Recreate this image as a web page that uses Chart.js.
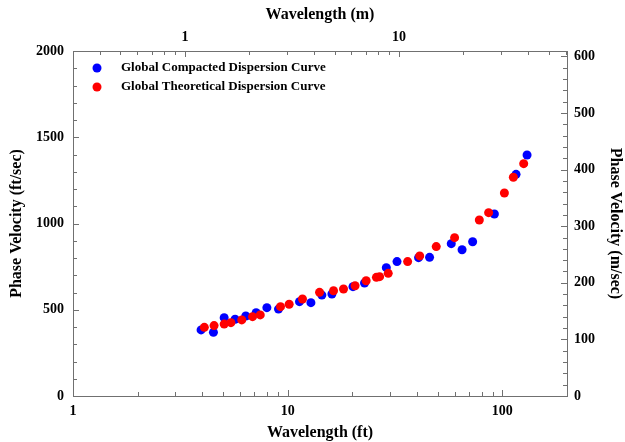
<!DOCTYPE html>
<html>
<head>
<meta charset="utf-8">
<script src="https://cdn.jsdelivr.net/npm/chart.js@4.4.0/dist/chart.umd.min.js"></script>
<style>
  body { margin: 0; background: #fff; }
  #wrap { width: 625px; height: 442px; }
</style>
</head>
<body>
<div id="wrap"><canvas id="dispersion" width="625" height="442"></canvas></div>
<script>
// wavelength (ft) and phase velocity (ft/sec)
let compactedX = [3.95,4.51,5.06,5.69,6.38,7.13,8.0,9.06,11.35,12.83,14.43,16.07,20.14,22.8,28.8,32.3,40.7,45.8,57.8,64.9,72.7,91.8,115.8,130.3]
let compactedV = [383,369,454,445,464,483,512,504,547,541,585,591,634,655,744,779,802,804,883,848,894,1055,1285,1397]
let theoreticalX = [4.09,4.54,5.06,5.44,6.11,6.86,7.45,9.26,10.16,11.72,14.07,16.35,18.2,20.6,23.2,25.9,26.8,29.4,36.2,41.2,49.2,59.9,78.1,86.3,102.2,112.5,125.7]
let theoreticalV = [398,408,417,425,441,460,470,518,532,562,601,610,620,639,668,688,692,711,779,812,866,918,1020,1063,1177,1268,1347]

let seriesNames = ['Global Compacted Dispersion Curve','Global Theoretical Dispersion Curve']
let seriesColors = ['#0000ff','#ff0000']

// tick labels
let ftTicks = [1, 10, 100]
let mTicks = [1, 10]
let ftsTicks = [0, 500, 1000, 1500, 2000]
let msTicks = [0, 100, 200, 300, 400, 500, 600]

const FT = 3.2808
let xMin = 1, xMax = 200
let yMin = 0, yMax = 2000

let serif = 'Liberation Serif'
let tickFont = {family: serif, size: 14, weight: 'bold'}
let titleFont = {family: serif, size: 16, weight: 'bold'}

function pts(xs, ys) {
  return xs.map((x, i) => ({x: x, y: ys[i]}))
}

function setTicks(list) {
  return sc => { sc.ticks = list.map(v => ({value: v})) }
}

function logTickValues(min, max) {
  let out = []
  for (let k = Math.floor(Math.log10(min)); k <= Math.ceil(Math.log10(max)); k++) {
    for (let d = 1; d < 10; d++) {
      let v = d * Math.pow(10, k)
      if (v >= min * 0.9999 && v <= max * 1.0001) out.push({v: v, major: d === 1})
    }
  }
  return out
}

function linTickValues(min, max, step, majorStep) {
  let out = []
  for (let v = min; v <= max + 1e-9; v += step) {
    out.push({v: v, major: Math.abs(v / majorStep - Math.round(v / majorStep)) < 1e-9})
  }
  return out
}

// frame + inward tick marks + legend inside the plot
let frameAndTicks = {
  id: 'frameAndTicks',
  afterDraw(chart) {
    let ctx = chart.ctx
    let a = chart.chartArea
    let s = chart.scales
    ctx.save()
    ctx.strokeStyle = '#707070'
    ctx.lineWidth = 1
    ctx.strokeRect(Math.round(a.left) + 0.5, Math.round(a.top) + 0.5, Math.round(a.right - a.left), Math.round(a.bottom - a.top))
    ctx.beginPath()
    logTickValues(xMin, xMax).forEach(t => {
      let px = Math.round(s.x.getPixelForValue(t.v)) + 0.5
      let len = t.major ? 6 : 4
      ctx.moveTo(px, a.bottom); ctx.lineTo(px, a.bottom - len)
    })
    logTickValues(xMin / FT, xMax / FT).forEach(t => {
      let px = Math.round(s.x2.getPixelForValue(t.v)) + 0.5
      let len = t.major ? 6 : 4
      ctx.moveTo(px, a.top); ctx.lineTo(px, a.top + len)
    })
    linTickValues(0, 2000, 100, 500).forEach(t => {
      let py = Math.round(s.y.getPixelForValue(t.v)) + 0.5
      let len = t.major ? 6 : 4
      ctx.moveTo(a.left, py); ctx.lineTo(a.left + len, py)
    })
    linTickValues(0, 600, 20, 100).forEach(t => {
      let py = Math.round(s.y2.getPixelForValue(t.v)) + 0.5
      let len = t.major ? 6 : 4
      ctx.moveTo(a.right, py); ctx.lineTo(a.right - len, py)
    })
    ctx.stroke()

    // legend
    ctx.font = 'bold 13px "' + serif + '"'
    ctx.textBaseline = 'middle'
    ctx.textAlign = 'left'
    seriesNames.forEach((name, i) => {
      let y = 68 + i * 19
      ctx.fillStyle = seriesColors[i]
      ctx.beginPath()
      ctx.arc(97, y, 4.5, 0, Math.PI * 2)
      ctx.fill()
      ctx.fillStyle = '#000'
      ctx.fillText(name, 121, y)
    })
    ctx.restore()
  }
}

let chart = new Chart(document.querySelector('#dispersion').getContext('2d'), {
  type: 'scatter',
  data: {
    datasets: [{
      label: seriesNames[0],
      data: pts(compactedX, compactedV),
      backgroundColor: seriesColors[0],
      borderWidth: 0,
      pointRadius: 4.5,
      order: 1
    }, {
      label: seriesNames[1],
      data: pts(theoreticalX, theoreticalV),
      backgroundColor: seriesColors[1],
      borderWidth: 0,
      pointRadius: 4.5,
      order: 0
    }]
  },
  options: {
    responsive: false,
    animation: false,
    layout: {padding: 0},
    plugins: {
      legend: {display: false},
      tooltip: {enabled: false}
    },
    scales: {
      x: {
        type: 'logarithmic', position: 'bottom', min: xMin, max: xMax,
        grid: {display: false, drawTicks: false}, border: {display: false},
        ticks: {font: tickFont, color: '#000', padding: 7, autoSkip: false, maxRotation: 0,
          callback: v => String(v)},
        afterBuildTicks: setTicks(ftTicks),
        title: {display: true, text: 'Wavelength (ft)', font: titleFont, color: '#000', padding: {top: 0, bottom: 0}},
        afterFit: sc => { sc.height = 46 }
      },
      x2: {
        type: 'logarithmic', position: 'top', min: xMin / FT, max: xMax / FT,
        grid: {display: false, drawTicks: false}, border: {display: false},
        ticks: {font: tickFont, color: '#000', padding: 5, autoSkip: false, maxRotation: 0,
          callback: v => String(v)},
        afterBuildTicks: setTicks(mTicks),
        title: {display: true, text: 'Wavelength (m)', font: titleFont, color: '#000', padding: {top: 5, bottom: 0}},
        afterFit: sc => { sc.height = 51 }
      },
      y: {
        type: 'linear', position: 'left', min: yMin, max: yMax,
        grid: {display: false, drawTicks: false}, border: {display: false},
        ticks: {font: tickFont, color: '#000', padding: 9, autoSkip: false, callback: v => String(v)},
        afterBuildTicks: setTicks(ftsTicks),
        title: {display: true, text: 'Phase Velocity (ft/sec)', font: titleFont, color: '#000', padding: {top: 7, bottom: 0}},
        afterFit: sc => { sc.width = 73 }
      },
      y2: {
        type: 'linear', position: 'right', min: yMin / FT, max: yMax / FT,
        grid: {display: false, drawTicks: false}, border: {display: false},
        ticks: {font: tickFont, color: '#000', padding: 7, autoSkip: false, callback: v => String(v)},
        afterBuildTicks: setTicks(msTicks),
        title: {display: true, text: 'Phase Velocity (m/sec)', font: titleFont, color: '#000', padding: {top: 0, bottom: 0}},
        afterFit: sc => { sc.width = 58 }
      }
    }
  },
  plugins: [frameAndTicks]
})
</script>
</body>
</html>
